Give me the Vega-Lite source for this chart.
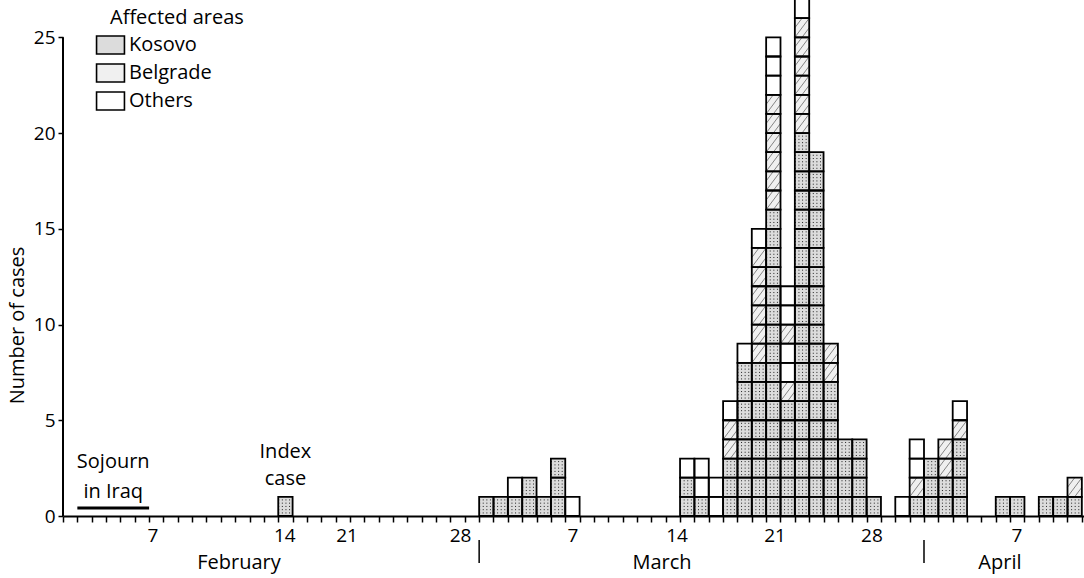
{
"$schema": "https://vega.github.io/schema/vega-lite/v6.json",
"width": 1021,
"height": 516,
"autosize": {"type": "none"},
"padding": {"left": 63, "top": 0, "right": 0, "bottom": 62},
"background": "white",
"config": {
  "font": "Open Sans",
  "view": {"stroke": null},
  "axis": {"labelFont": "Open Sans", "titleFont": "Open Sans"},
  "legend": {"labelFont": "Open Sans", "titleFont": "Open Sans"},
  "text": {"font": "Open Sans", "fontSize": 19, "color": "black"}
},
"datasets": {
"cells": [
{"date":"1972-02-16","n":1,"area":"Kosovo"},
{"date":"1972-03-01","n":1,"area":"Kosovo"},
{"date":"1972-03-02","n":1,"area":"Kosovo"},
{"date":"1972-03-03","n":1,"area":"Kosovo"},{"date":"1972-03-03","n":2,"area":"Others"},
{"date":"1972-03-04","n":1,"area":"Kosovo"},{"date":"1972-03-04","n":2,"area":"Kosovo"},
{"date":"1972-03-05","n":1,"area":"Kosovo"},
{"date":"1972-03-06","n":1,"area":"Kosovo"},{"date":"1972-03-06","n":2,"area":"Kosovo"},{"date":"1972-03-06","n":3,"area":"Kosovo"},
{"date":"1972-03-07","n":1,"area":"Others"},
{"date":"1972-03-15","n":1,"area":"Kosovo"},{"date":"1972-03-15","n":2,"area":"Kosovo"},{"date":"1972-03-15","n":3,"area":"Others"},
{"date":"1972-03-16","n":1,"area":"Kosovo"},{"date":"1972-03-16","n":2,"area":"Others"},{"date":"1972-03-16","n":3,"area":"Others"},
{"date":"1972-03-17","n":1,"area":"Others"},{"date":"1972-03-17","n":2,"area":"Others"},
{"date":"1972-03-18","n":1,"area":"Kosovo"},{"date":"1972-03-18","n":2,"area":"Kosovo"},{"date":"1972-03-18","n":3,"area":"Kosovo"},{"date":"1972-03-18","n":4,"area":"Belgrade"},{"date":"1972-03-18","n":5,"area":"Belgrade"},{"date":"1972-03-18","n":6,"area":"Others"},
{"date":"1972-03-19","n":1,"area":"Kosovo"},{"date":"1972-03-19","n":2,"area":"Kosovo"},{"date":"1972-03-19","n":3,"area":"Kosovo"},{"date":"1972-03-19","n":4,"area":"Kosovo"},{"date":"1972-03-19","n":5,"area":"Kosovo"},{"date":"1972-03-19","n":6,"area":"Kosovo"},{"date":"1972-03-19","n":7,"area":"Kosovo"},{"date":"1972-03-19","n":8,"area":"Kosovo"},{"date":"1972-03-19","n":9,"area":"Others"},
{"date":"1972-03-20","n":1,"area":"Kosovo"},{"date":"1972-03-20","n":2,"area":"Kosovo"},{"date":"1972-03-20","n":3,"area":"Kosovo"},{"date":"1972-03-20","n":4,"area":"Kosovo"},{"date":"1972-03-20","n":5,"area":"Kosovo"},{"date":"1972-03-20","n":6,"area":"Kosovo"},{"date":"1972-03-20","n":7,"area":"Kosovo"},{"date":"1972-03-20","n":8,"area":"Kosovo"},{"date":"1972-03-20","n":9,"area":"Belgrade"},{"date":"1972-03-20","n":10,"area":"Belgrade"},{"date":"1972-03-20","n":11,"area":"Belgrade"},{"date":"1972-03-20","n":12,"area":"Belgrade"},{"date":"1972-03-20","n":13,"area":"Belgrade"},{"date":"1972-03-20","n":14,"area":"Belgrade"},{"date":"1972-03-20","n":15,"area":"Others"},
{"date":"1972-03-21","n":1,"area":"Kosovo"},{"date":"1972-03-21","n":2,"area":"Kosovo"},{"date":"1972-03-21","n":3,"area":"Kosovo"},{"date":"1972-03-21","n":4,"area":"Kosovo"},{"date":"1972-03-21","n":5,"area":"Kosovo"},{"date":"1972-03-21","n":6,"area":"Kosovo"},{"date":"1972-03-21","n":7,"area":"Kosovo"},{"date":"1972-03-21","n":8,"area":"Kosovo"},{"date":"1972-03-21","n":9,"area":"Kosovo"},{"date":"1972-03-21","n":10,"area":"Kosovo"},{"date":"1972-03-21","n":11,"area":"Kosovo"},{"date":"1972-03-21","n":12,"area":"Kosovo"},{"date":"1972-03-21","n":13,"area":"Kosovo"},{"date":"1972-03-21","n":14,"area":"Kosovo"},{"date":"1972-03-21","n":15,"area":"Kosovo"},{"date":"1972-03-21","n":16,"area":"Kosovo"},{"date":"1972-03-21","n":17,"area":"Belgrade"},{"date":"1972-03-21","n":18,"area":"Belgrade"},{"date":"1972-03-21","n":19,"area":"Belgrade"},{"date":"1972-03-21","n":20,"area":"Belgrade"},{"date":"1972-03-21","n":21,"area":"Belgrade"},{"date":"1972-03-21","n":22,"area":"Belgrade"},{"date":"1972-03-21","n":23,"area":"Others"},{"date":"1972-03-21","n":24,"area":"Others"},{"date":"1972-03-21","n":25,"area":"Others"},
{"date":"1972-03-22","n":1,"area":"Kosovo"},{"date":"1972-03-22","n":2,"area":"Kosovo"},{"date":"1972-03-22","n":3,"area":"Kosovo"},{"date":"1972-03-22","n":4,"area":"Kosovo"},{"date":"1972-03-22","n":5,"area":"Kosovo"},{"date":"1972-03-22","n":6,"area":"Kosovo"},{"date":"1972-03-22","n":7,"area":"Belgrade"},{"date":"1972-03-22","n":8,"area":"Others"},{"date":"1972-03-22","n":9,"area":"Others"},{"date":"1972-03-22","n":10,"area":"Belgrade"},{"date":"1972-03-22","n":11,"area":"Others"},{"date":"1972-03-22","n":12,"area":"Others"},
{"date":"1972-03-23","n":1,"area":"Kosovo"},{"date":"1972-03-23","n":2,"area":"Kosovo"},{"date":"1972-03-23","n":3,"area":"Kosovo"},{"date":"1972-03-23","n":4,"area":"Kosovo"},{"date":"1972-03-23","n":5,"area":"Kosovo"},{"date":"1972-03-23","n":6,"area":"Kosovo"},{"date":"1972-03-23","n":7,"area":"Kosovo"},{"date":"1972-03-23","n":8,"area":"Kosovo"},{"date":"1972-03-23","n":9,"area":"Kosovo"},{"date":"1972-03-23","n":10,"area":"Kosovo"},{"date":"1972-03-23","n":11,"area":"Kosovo"},{"date":"1972-03-23","n":12,"area":"Kosovo"},{"date":"1972-03-23","n":13,"area":"Kosovo"},{"date":"1972-03-23","n":14,"area":"Kosovo"},{"date":"1972-03-23","n":15,"area":"Kosovo"},{"date":"1972-03-23","n":16,"area":"Kosovo"},{"date":"1972-03-23","n":17,"area":"Kosovo"},{"date":"1972-03-23","n":18,"area":"Kosovo"},{"date":"1972-03-23","n":19,"area":"Kosovo"},{"date":"1972-03-23","n":20,"area":"Kosovo"},{"date":"1972-03-23","n":21,"area":"Belgrade"},{"date":"1972-03-23","n":22,"area":"Belgrade"},{"date":"1972-03-23","n":23,"area":"Belgrade"},{"date":"1972-03-23","n":24,"area":"Belgrade"},{"date":"1972-03-23","n":25,"area":"Belgrade"},{"date":"1972-03-23","n":26,"area":"Belgrade"},{"date":"1972-03-23","n":27,"area":"Others"},
{"date":"1972-03-24","n":1,"area":"Kosovo"},{"date":"1972-03-24","n":2,"area":"Kosovo"},{"date":"1972-03-24","n":3,"area":"Kosovo"},{"date":"1972-03-24","n":4,"area":"Kosovo"},{"date":"1972-03-24","n":5,"area":"Kosovo"},{"date":"1972-03-24","n":6,"area":"Kosovo"},{"date":"1972-03-24","n":7,"area":"Kosovo"},{"date":"1972-03-24","n":8,"area":"Kosovo"},{"date":"1972-03-24","n":9,"area":"Kosovo"},{"date":"1972-03-24","n":10,"area":"Kosovo"},{"date":"1972-03-24","n":11,"area":"Kosovo"},{"date":"1972-03-24","n":12,"area":"Kosovo"},{"date":"1972-03-24","n":13,"area":"Kosovo"},{"date":"1972-03-24","n":14,"area":"Kosovo"},{"date":"1972-03-24","n":15,"area":"Kosovo"},{"date":"1972-03-24","n":16,"area":"Kosovo"},{"date":"1972-03-24","n":17,"area":"Kosovo"},{"date":"1972-03-24","n":18,"area":"Kosovo"},{"date":"1972-03-24","n":19,"area":"Kosovo"},
{"date":"1972-03-25","n":1,"area":"Kosovo"},{"date":"1972-03-25","n":2,"area":"Kosovo"},{"date":"1972-03-25","n":3,"area":"Kosovo"},{"date":"1972-03-25","n":4,"area":"Kosovo"},{"date":"1972-03-25","n":5,"area":"Kosovo"},{"date":"1972-03-25","n":6,"area":"Kosovo"},{"date":"1972-03-25","n":7,"area":"Kosovo"},{"date":"1972-03-25","n":8,"area":"Belgrade"},{"date":"1972-03-25","n":9,"area":"Belgrade"},
{"date":"1972-03-26","n":1,"area":"Kosovo"},{"date":"1972-03-26","n":2,"area":"Kosovo"},{"date":"1972-03-26","n":3,"area":"Kosovo"},{"date":"1972-03-26","n":4,"area":"Kosovo"},
{"date":"1972-03-27","n":1,"area":"Kosovo"},{"date":"1972-03-27","n":2,"area":"Kosovo"},{"date":"1972-03-27","n":3,"area":"Kosovo"},{"date":"1972-03-27","n":4,"area":"Kosovo"},
{"date":"1972-03-28","n":1,"area":"Kosovo"},
{"date":"1972-03-30","n":1,"area":"Others"},
{"date":"1972-03-31","n":1,"area":"Kosovo"},{"date":"1972-03-31","n":2,"area":"Belgrade"},{"date":"1972-03-31","n":3,"area":"Others"},{"date":"1972-03-31","n":4,"area":"Others"},
{"date":"1972-04-01","n":1,"area":"Kosovo"},{"date":"1972-04-01","n":2,"area":"Kosovo"},{"date":"1972-04-01","n":3,"area":"Kosovo"},
{"date":"1972-04-02","n":1,"area":"Kosovo"},{"date":"1972-04-02","n":2,"area":"Kosovo"},{"date":"1972-04-02","n":3,"area":"Belgrade"},{"date":"1972-04-02","n":4,"area":"Belgrade"},
{"date":"1972-04-03","n":1,"area":"Kosovo"},{"date":"1972-04-03","n":2,"area":"Kosovo"},{"date":"1972-04-03","n":3,"area":"Kosovo"},{"date":"1972-04-03","n":4,"area":"Kosovo"},{"date":"1972-04-03","n":5,"area":"Belgrade"},{"date":"1972-04-03","n":6,"area":"Others"},
{"date":"1972-04-06","n":1,"area":"Kosovo"},
{"date":"1972-04-07","n":1,"area":"Kosovo"},
{"date":"1972-04-09","n":1,"area":"Kosovo"},
{"date":"1972-04-10","n":1,"area":"Kosovo"},
{"date":"1972-04-11","n":1,"area":"Kosovo"},{"date":"1972-04-11","n":2,"area":"Belgrade"}
],
"ticklabels": [
{"at":"1972-02-07T06:30:00Z","label":"7"},
{"at":"1972-02-16T11:00:00Z","label":"14"},
{"at":"1972-02-20T19:00:00Z","label":"21"},
{"at":"1972-02-28T17:00:00Z","label":"28"},
{"at":"1972-03-07T13:00:00Z","label":"7"},
{"at":"1972-03-14T19:00:00Z","label":"14"},
{"at":"1972-03-21T15:00:00Z","label":"21"},
{"at":"1972-03-28T09:00:00Z","label":"28"},
{"at":"1972-04-07T11:30:00Z","label":"7"}
],
"months": [
{"month":"February","start":"1972-02-01","label_at":"1972-02-13T06:15:00Z"},
{"month":"March","start":"1972-03-01","label_at":"1972-03-13T17:45:00Z"},
{"month":"April","start":"1972-04-01","label_at":"1972-04-06T07:00:00Z"}
],
"events": [
{"event":"Sojourn in Iraq","label":"Sojourn\nin Iraq","start":"1972-02-02","end":"1972-02-07"},
{"event":"Index case","label":"Index\ncase","start":"1972-02-16","end":"1972-02-17"}
]
},
"layer": [
{
  "data": {"name": "cells"},
  "transform": [
    {"calculate": "toDate(datum.date)", "as": "t0"},
    {"calculate": "datum.t0 + 86400000", "as": "t1"},
    {"calculate": "datum.n - 1", "as": "y0"}
  ],
  "mark": {"type": "rect", "strokeWidth": 0},
  "encoding": {
    "x": {"field": "t0", "type": "temporal",
      "scale": {"type": "utc", "domain": [{"year":1972,"month":2,"date":1,"utc":true},{"year":1972,"month":4,"date":12,"hours":3,"minutes":36,"utc":true}]},
      "axis": {"tickCount": {"interval": "day", "step": 1}, "labels": false, "title": null, "grid": false,
        "domainColor": "black", "domainWidth": 2, "tickSize": 6, "tickWidth": 1.5, "tickColor": "black"}},
    "x2": {"field": "t1"},
    "y": {"field": "y0", "type": "quantitative",
      "scale": {"domain": [0, 26.95], "nice": false, "zero": false},
      "axis": {"values": [0,5,10,15,20,25], "domain": false, "grid": false, "tickSize": 5, "tickWidth": 1.5,
        "tickColor": "black", "labelFontSize": 19, "labelColor": "black", "labelPadding": 3,
        "title": "Number of cases", "titleFontSize": 20, "titleFontWeight": "normal", "titleColor": "black",
        "titleX": -46, "titleY": 325, "titleBaseline": "middle"}},
    "y2": {"field": "n"},
    "color": {"field": "area", "type": "nominal",
      "scale": {"domain": ["Kosovo","Belgrade","Others"], "range": ["#dcdcdc","#f0f0f0","#ffffff"]},
      "legend": {"orient": "none", "legendX": 47, "legendY": 8, "direction": "vertical", "title": "Affected areas",
        "titleFontSize": 20, "titleFontWeight": "normal", "titleColor": "black", "titlePadding": 7,
        "labelFontSize": 20, "labelColor": "black", "labelOffset": 8.5, "symbolOffset": -9.5,
        "symbolType": "M-1.55,-1H1.55V1H-1.55Z", "symbolSize": 324, "symbolStrokeColor": "black",
        "symbolStrokeWidth": 1.6, "rowPadding": 2, "padding": 0}}
  }
},
{
  "data": {"name": "cells"},
  "transform": [
    {"filter": "datum.area === 'Kosovo'"},
    {"calculate": "toDate(datum.date)", "as": "t0"},
    {"calculate": "datum.t0 + 86400000", "as": "t1"},
    {"calculate": "[0.16, 0.33, 0.5, 0.67, 0.84]", "as": "f"},
    {"flatten": ["f"]},
    {"calculate": "datum.n - 1 + datum.f", "as": "yy"}
  ],
  "mark": {"type": "rule", "strokeDash": [1, 2.6], "strokeWidth": 1, "color": "#222222"},
  "encoding": {
    "x": {"field": "t0", "type": "temporal"},
    "x2": {"field": "t1"},
    "y": {"field": "yy", "type": "quantitative"}
  }
},
{
  "data": {"name": "cells"},
  "transform": [
    {"filter": "datum.area === 'Belgrade'"},
    {"calculate": "toDate(datum.date)", "as": "t0"},
    {"calculate": "[-0.5, 0, 0.5]", "as": "o"},
    {"flatten": ["o"]},
    {"calculate": "datum.t0 + max(datum.o, 0) * 86400000", "as": "xa"},
    {"calculate": "datum.n - 1 + max(-datum.o, 0)", "as": "ya"},
    {"calculate": "datum.t0 + (1 + min(datum.o, 0)) * 86400000", "as": "xb"},
    {"calculate": "datum.n - max(datum.o, 0)", "as": "yb"}
  ],
  "mark": {"type": "rule", "strokeWidth": 0.9, "color": "#777777"},
  "encoding": {
    "x": {"field": "xa", "type": "temporal"},
    "x2": {"field": "xb"},
    "y": {"field": "ya", "type": "quantitative"},
    "y2": {"field": "yb"}
  }
},
{
  "data": {"name": "cells"},
  "transform": [
    {"calculate": "toDate(datum.date)", "as": "t0"},
    {"calculate": "datum.t0 + 86400000", "as": "t1"},
    {"calculate": "datum.n - 1", "as": "y0"}
  ],
  "mark": {"type": "rect", "filled": false, "stroke": "black", "strokeWidth": 1.8},
  "encoding": {
    "x": {"field": "t0", "type": "temporal"},
    "x2": {"field": "t1"},
    "y": {"field": "y0", "type": "quantitative"},
    "y2": {"field": "n"}
  }
},
{
  "data": {"values": [{}]},
  "mark": {"type": "rule", "strokeWidth": 2, "color": "black"},
  "encoding": {
    "x": {"datum": {"year":1972,"month":2,"date":1,"utc":true}, "type": "temporal"},
    "y": {"datum": 0, "type": "quantitative"},
    "y2": {"datum": 25}
  }
},
{
  "data": {"name": "events"},
  "transform": [{"filter": "datum.event === 'Sojourn in Iraq'"}],
  "mark": {"type": "rule", "strokeWidth": 3, "color": "black"},
  "encoding": {
    "x": {"field": "start", "type": "temporal"},
    "x2": {"field": "end"},
    "y": {"datum": 0.42, "type": "quantitative"}
  }
},
{
  "data": {"name": "events"},
  "transform": [
    {"filter": "datum.event === 'Sojourn in Iraq'"},
    {"calculate": "(toDate(datum.start) + toDate(datum.end)) / 2", "as": "mid"}
  ],
  "mark": {"type": "text", "lineBreak": "\n", "lineHeight": 30, "baseline": "middle", "align": "center", "fontSize": 20},
  "encoding": {
    "x": {"field": "mid", "type": "temporal"},
    "y": {"datum": 2.82, "type": "quantitative"},
    "text": {"field": "label"}
  }
},
{
  "data": {"name": "events"},
  "transform": [
    {"filter": "datum.event === 'Index case'"},
    {"calculate": "(toDate(datum.start) + toDate(datum.end)) / 2", "as": "mid"}
  ],
  "mark": {"type": "text", "lineBreak": "\n", "lineHeight": 27, "baseline": "middle", "align": "center", "fontSize": 20},
  "encoding": {
    "x": {"field": "mid", "type": "temporal"},
    "y": {"datum": 3.34, "type": "quantitative"},
    "text": {"field": "label"}
  }
},
{
  "data": {"name": "ticklabels"},
  "mark": {"type": "text", "baseline": "middle", "align": "center", "dy": 20, "fontSize": 19},
  "encoding": {
    "x": {"field": "at", "type": "temporal"},
    "y": {"datum": 0, "type": "quantitative"},
    "text": {"field": "label"}
  }
},
{
  "data": {"name": "months"},
  "mark": {"type": "text", "baseline": "middle", "align": "center", "dy": 47, "fontSize": 20},
  "encoding": {
    "x": {"field": "label_at", "type": "temporal"},
    "y": {"datum": 0, "type": "quantitative"},
    "text": {"field": "month"}
  }
},
{
  "data": {"name": "months"},
  "transform": [{"filter": "datum.month !== 'February'"}],
  "mark": {"type": "rule", "strokeWidth": 1.5, "color": "black"},
  "encoding": {
    "x": {"field": "start", "type": "temporal"},
    "y": {"datum": -1.25, "type": "quantitative"},
    "y2": {"datum": -2.45}
  }
}
]
}
